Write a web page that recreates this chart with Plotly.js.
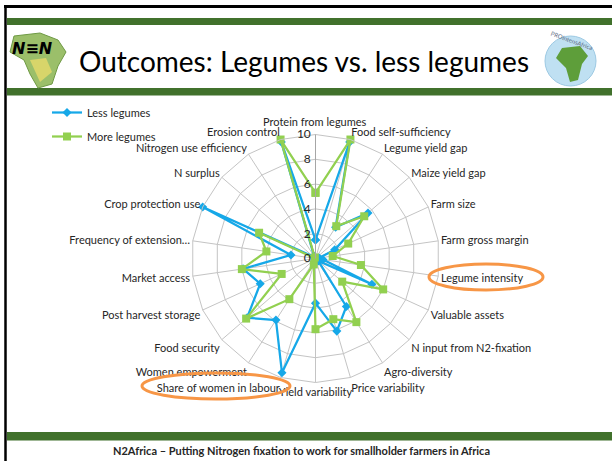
<!DOCTYPE html>
<html>
<head>
<meta charset="utf-8">
<script src="https://cdn.plot.ly/plotly-3.0.1.min.js"></script>
<style>
  html, body { margin: 0; padding: 0; background: #ffffff; }
  #chart { width: 612px; height: 461px; }
</style>
</head>
<body>
<div id="chart"></div>
<script>
// ---- Data ----
const categories = [
  "Protein from legumes", "Food self-sufficiency", "Legume yield gap", "Maize yield gap",
  "Farm size", "Farm gross margin", "Legume intensity", "Valuable assets",
  "N input from N2-fixation", "Agro-diversity", "Price variability", "Yield variability",
  "Share of women in labour", "Women empowerment", "Food security", "Post harvest storage",
  "Market access", "Frequency of extension…", "Crop protection use", "N surplus",
  "Nitrogen use efficiency", "Erosion control"
];
const lessLegumes = [1.5, 9.8, 3.0, 5.6, 1.7, 0.3, 0.6, 5.0, 0.3, 4.6, 6.1, 3.6,
                     9.6, 5.9, 7.3, 4.9, 5.9, 2.0, 10.0, 0.2, 0.2, 9.8];
const moreLegumes = [5.3, 10.0, 3.1, 5.2, 2.9, 1.4, 3.7, 6.0, 2.85, 6.1, 5.1, 5.7,
                     0.5, 3.9, 7.4, 3.0, 6.0, 4.0, 5.0, 0.0, 0.1, 10.0];
const seriesNames = ["Less legumes", "More legumes"];
const radialTicks = [0, 2, 4, 6, 8, 10];
const titleText = "Outcomes: Legumes vs. less legumes";
const footerText = "N2Africa – Putting Nitrogen fixation to work for smallholder farmers in Africa";

// ---- Helpers ----
const W = 612, H = 461;
const px = x => x / W;
const py = y => 1 - y / H;
const close = arr => arr.concat([arr[0]]);

const blue = "#16a8e8";
const green = "#92d050";
const darkGreen = "#41712c";
const orange = "#f79646";
const textCol = "#262626";
const gridCol = "#c4c4c4";
const labelFont = { family: "Lato, 'Open Sans', sans-serif", size: 11, color: textCol };

const traces = [
  {
    type: "scatterpolar",
    name: seriesNames[0],
    legendgroup: "a",
    r: close(lessLegumes),
    theta: close(categories),
    mode: "lines+markers",
    line: { color: blue, width: 2.25 },
    marker: { symbol: "diamond", size: 7, color: blue },
    hoverinfo: "skip"
  },
  {
    type: "scatterpolar",
    name: seriesNames[1],
    legendgroup: "b",
    r: close(moreLegumes),
    theta: close(categories),
    mode: "lines+markers",
    line: { color: green, width: 2.25 },
    marker: { symbol: "square", size: 8, color: green },
    hoverinfo: "skip"
  }
];

// polar geometry: center (315.5, 258.5), radius 124 px
const cx = 315.5, cy = 258.5, R = 124;

// the top category label is placed a little higher (as in the original) via an annotation
const angularTickText = categories.map((c, i) => (i === 0 ? "" : c));

const shapes = [
  // black slide frame
  { type: "line", xref: "paper", yref: "paper", x0: px(4), x1: px(612), y0: py(6.5), y1: py(6.5),
    line: { color: "#000000", width: 3 } },
  { type: "line", xref: "paper", yref: "paper", x0: px(5.5), x1: px(5.5), y0: py(5), y1: py(461),
    line: { color: "#000000", width: 2.5 } },
  // green bars
  { type: "rect", xref: "paper", yref: "paper", x0: px(7), x1: px(612), y0: py(25), y1: py(18),
    fillcolor: darkGreen, line: { width: 0 } },
  { type: "rect", xref: "paper", yref: "paper", x0: px(7), x1: px(612), y0: py(95.5), y1: py(88),
    fillcolor: darkGreen, line: { width: 0 } },
  { type: "rect", xref: "paper", yref: "paper", x0: px(7), x1: px(612), y0: py(440.5), y1: py(432),
    fillcolor: darkGreen, line: { width: 0 } },
  // orange highlight ellipses
  { type: "circle", xref: "paper", yref: "paper", x0: px(429), x1: px(543), y0: py(290), y1: py(264),
    line: { color: orange, width: 3 }, fillcolor: "rgba(0,0,0,0)", layer: "above" },
  { type: "circle", xref: "paper", yref: "paper", x0: px(142), x1: px(290), y0: py(399), y1: py(373),
    line: { color: orange, width: 3 }, fillcolor: "rgba(0,0,0,0)", layer: "above" },
  // left logo (simplified Africa map)
  { type: "path", xref: "paper", yref: "paper",
    path: "M " + px(14) + "," + py(36) + " L " + px(40) + "," + py(33) + " L " + px(58) + "," + py(40) +
          " L " + px(66) + "," + py(52) + " L " + px(58) + "," + py(66) + " L " + px(52) + "," + py(84) +
          " L " + px(38) + "," + py(88) + " L " + px(30) + "," + py(74) + " L " + px(24) + "," + py(60) +
          " L " + px(10) + "," + py(52) + " Z",
    fillcolor: "#9bbf6a", line: { color: "#6f9a45", width: 1 } },
  { type: "path", xref: "paper", yref: "paper",
    path: "M " + px(30) + "," + py(60) + " L " + px(46) + "," + py(58) + " L " + px(52) + "," + py(72) +
          " L " + px(40) + "," + py(82) + " Z",
    fillcolor: "#d8d56a", line: { width: 0 } },
  // right logo (simplified globe)
  { type: "circle", xref: "paper", yref: "paper", x0: px(545), x1: px(596), y0: py(86), y1: py(36),
    fillcolor: "#bfe0f2", line: { color: "#9cc9e3", width: 1 } },
  { type: "path", xref: "paper", yref: "paper",
    path: "M " + px(562) + "," + py(48) + " L " + px(580) + "," + py(46) + " L " + px(588) + "," + py(56) +
          " L " + px(582) + "," + py(64) + " L " + px(578) + "," + py(80) + " L " + px(570) + "," + py(82) +
          " L " + px(566) + "," + py(68) + " L " + px(556) + "," + py(58) + " Z",
    fillcolor: "#5e9e3a", line: { width: 0 } }
];

const annotations = [
  { text: titleText, xref: "paper", yref: "paper", x: px(304), y: py(61), xanchor: "center", yanchor: "middle",
    showarrow: false, font: { family: "Lato, 'Open Sans', sans-serif", size: 28, color: "#000000" } },
  { text: "<b>" + footerText + "</b>", xref: "paper", yref: "paper", x: px(301), y: py(450),
    xanchor: "center", yanchor: "middle", showarrow: false,
    font: { family: "Lato, 'Open Sans', sans-serif", size: 11, color: textCol } },
  { text: categories[0], xref: "paper", yref: "paper", x: px(cx), y: py(cy - R - 13),
    xanchor: "center", yanchor: "middle", showarrow: false, font: labelFont },
  { text: "<b><i>N≡N</i></b>", xref: "paper", yref: "paper", x: px(32), y: py(48),
    xanchor: "center", yanchor: "middle", showarrow: false,
    font: { family: "'DejaVu Sans', sans-serif", size: 16, color: "#000000" } },
  { text: "PROIntensAfrica", xref: "paper", yref: "paper", x: px(572), y: py(40),
    xanchor: "center", yanchor: "middle", showarrow: false, textangle: 20,
    font: { family: "Lato, sans-serif", size: 6, color: "#5a6a80" } }
];

const layout = {
  width: W, height: H,
  margin: { l: 0, r: 0, t: 0, b: 0 },
  paper_bgcolor: "#ffffff",
  font: labelFont,
  showlegend: true,
  legend: {
    x: px(47), y: py(98), xanchor: "left", yanchor: "top",
    bgcolor: "rgba(0,0,0,0)", tracegroupgap: 5,
    font: labelFont
  },
  polar: {
    domain: { x: [px(cx - R), px(cx + R)], y: [py(cy + R), py(cy - R)] },
    bgcolor: "rgba(0,0,0,0)",
    gridshape: "linear",
    radialaxis: {
      range: [0, 10],
      tickvals: radialTicks,
      ticktext: radialTicks.map(String),
      angle: 90,
      side: "counterclockwise",
      tickangle: 90,
      showline: true,
      linecolor: "#a6a6a6",
      linewidth: 1,
      gridcolor: gridCol,
      gridwidth: 1,
      ticks: "",
      tickfont: { family: "Lato, 'Open Sans', sans-serif", size: 12, color: textCol }
    },
    angularaxis: {
      type: "category",
      categoryarray: categories,
      tickmode: "array",
      tickvals: categories,
      ticktext: angularTickText,
      rotation: 90,
      direction: "clockwise",
      showline: true,
      linecolor: gridCol,
      linewidth: 1,
      gridcolor: gridCol,
      gridwidth: 1,
      ticks: "",
      tickfont: labelFont
    }
  },
  shapes: shapes,
  annotations: annotations
};

Plotly.newPlot("chart", traces, layout, { displayModeBar: false, staticPlot: true });
</script>
</body>
</html>
